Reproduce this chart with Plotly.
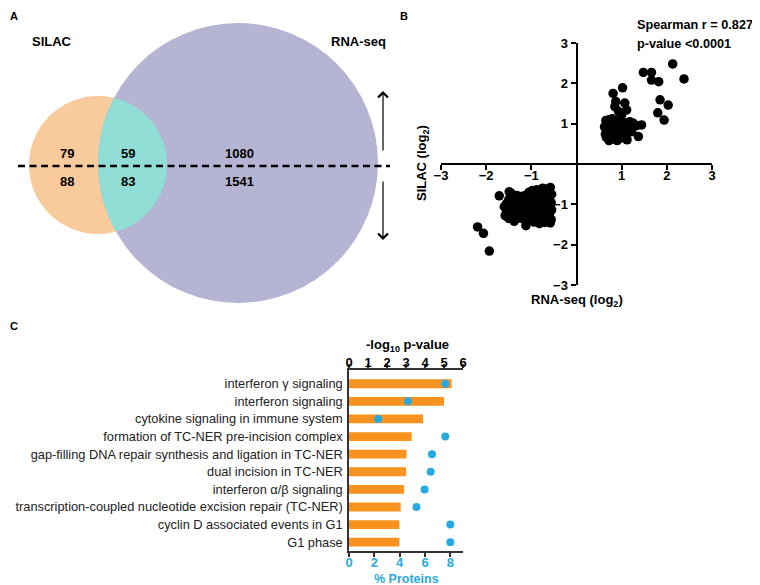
import numpy as np
import plotly.graph_objects as go

W, H = 760, 585
OFF = 8  # page body margin: target pixel t is drawn at figure pixel t - OFF
FONT = "Liberation Sans, Arial, sans-serif"

# ---------------- data ----------------
# Panel A: Venn counts
venn_labels = ["SILAC", "RNA-seq"]
silac_only_up, silac_only_down = 79, 88
overlap_up, overlap_down = 59, 83
rnaseq_only_up, rnaseq_only_down = 1080, 1541

# Panel B: SILAC vs RNA-seq (log2)
up_x = [2.13, 2.38, 1.48, 1.66, 1.66, 1.82, 1.85, 2.03, 1.80, 1.94,
        1.02, 0.81, 0.87, 1.07, 1.11, 0.85, 1.00, 0.93, 1.44, 1.37, 1.26, 1.33, 1.18, 1.15, 1.22,
        0.65, 0.70, 0.72, 0.78, 0.82, 0.68, 0.75, 0.80, 0.88, 0.92, 0.95, 1.00, 1.05, 1.02, 0.90,
        0.66, 0.72, 0.85, 0.98, 1.08, 0.62, 0.76, 0.87, 0.95, 1.10, 0.70, 0.82, 0.64, 0.93, 1.04,
        0.79, 0.90, 1.12, 0.74]
up_y = [2.48, 2.11, 2.27, 2.27, 2.08, 2.04, 1.59, 1.46, 1.27, 1.09,
        1.89, 1.75, 1.55, 1.51, 1.34, 1.42, 1.22, 1.30, 0.97, 0.68, 1.01, 0.95, 1.05, 0.88, 0.80,
        1.08, 0.95, 1.10, 1.02, 0.92, 0.80, 0.72, 0.62, 0.70, 0.85, 0.98, 0.78, 0.92, 0.65, 0.58,
        0.66, 0.58, 1.08, 1.08, 1.02, 0.92, 0.85, 0.80, 0.72, 0.72, 0.70, 0.75, 0.74, 0.62, 0.83,
        1.12, 0.95, 0.60, 0.64]
down_x = [-2.19, -2.06, -1.93, -1.71, -1.49, -1.12,
          -0.58, -0.65, -0.75, -0.88, -0.98, -1.05, -0.62,
          -0.55, -0.70, -0.82, -0.95, -1.10, -1.20, -1.32, -1.45,
          -0.60, -0.72, -0.85, -1.00, -1.15, -1.25, -1.38, -1.50,
          -0.56, -0.68, -0.80, -0.92, -1.05, -1.18, -1.30, -1.42, -1.55,
          -0.58, -0.74, -0.86, -0.97, -1.10, -1.22, -1.35, -1.48, -1.60,
          -0.55, -0.66, -0.78, -0.90, -1.02, -1.14, -1.28, -1.40, -1.55,
          -0.60, -0.72, -0.84, -0.95, -1.08, -1.20, -1.33, -1.45, -1.58,
          -0.56, -0.68, -0.80, -0.92, -1.04, -1.16, -1.28, -1.50,
          -0.58, -0.70, -0.82, -0.94, -1.38,
          -0.62, -0.76, -1.12, -0.88, -1.00]
down_y = [-1.56, -1.72, -2.16, -0.79, -0.69, -1.53,
          -0.58, -0.62, -0.60, -0.64, -0.66, -0.70, -0.70,
          -0.75, -0.74, -0.76, -0.78, -0.76, -0.80, -0.78, -0.72,
          -0.86, -0.88, -0.84, -0.88, -0.86, -0.90, -0.92, -0.88,
          -0.96, -0.98, -0.95, -0.97, -0.94, -0.98, -1.00, -1.02, -0.98,
          -1.06, -1.05, -1.08, -1.04, -1.07, -1.05, -1.10, -1.08, -1.06,
          -1.14, -1.18, -1.15, -1.16, -1.20, -1.15, -1.18, -1.20, -1.16,
          -1.26, -1.28, -1.25, -1.30, -1.26, -1.28, -1.24, -1.30, -1.28,
          -1.38, -1.40, -1.36, -1.40, -1.36, -1.38, -1.34, -1.35,
          -1.46, -1.45, -1.48, -1.44, -1.42,
          -0.94, -1.22, -0.95, -1.02, -1.12]
scatter_ticks = [-3, -2, -1, 1, 2, 3]

# Panel C: pathway enrichment
pathways = ["interferon γ signaling", "interferon signaling",
            "cytokine signaling in immune system",
            "formation of TC-NER pre-incision complex",
            "gap-filling DNA repair synthesis and ligation in TC-NER",
            "dual incision in TC-NER", "interferon α/β signaling",
            "transcription-coupled nucleotide excision repair (TC-NER)",
            "cyclin D associated events in G1", "G1 phase"]
neg_log10_p = [5.4, 5.0, 3.9, 3.3, 3.03, 3.0, 2.9, 2.72, 2.65, 2.65]
pct_proteins = [7.6, 4.65, 2.3, 7.6, 6.55, 6.45, 5.97, 5.33, 8.0, 8.0]
pval_ticks = [0, 1, 2, 3, 4, 5, 6]
pct_ticks = [0, 2, 4, 6, 8]

# ---------------- styling ----------------
ORANGE_V = "#F9CA9C"
TEAL_V = "#8FDDD4"
PURPLE_V = "#B6B4D3"
BAR_ORANGE = "#F7931E"
CYAN = "#27AAE1"


def px(x):
    return (x - OFF) / W


def py(y):
    return 1 - (y - OFF) / H


fig = go.Figure()

# ---------------- Panel A (pixel-scaled axis) ----------------
c1 = (98.0, 165.0, 69.0)   # SILAC circle (cx, cy, r)
c2 = (238.0, 163.0, 140.0)  # RNA-seq circle


def circle_shape(c, color):
    cx, cy, r = c
    return dict(type="circle", xref="x", yref="y", x0=cx - r, x1=cx + r,
                y0=cy - r, y1=cy + r, fillcolor=color, line=dict(width=0),
                layer="below")


def lens_path(a, b, n=80):
    (x1, y1, r1), (x2, y2, r2) = a, b
    d = np.hypot(x2 - x1, y2 - y1)
    ang = np.arctan2(y2 - y1, x2 - x1)
    t1 = np.arccos((d**2 + r1**2 - r2**2) / (2 * d * r1))
    t2 = np.arccos((d**2 + r2**2 - r1**2) / (2 * d * r2))
    th1 = np.linspace(ang - t1, ang + t1, n)
    th2 = np.linspace(ang + np.pi - t2, ang + np.pi + t2, n)
    xs = np.concatenate([x1 + r1 * np.cos(th1), x2 + r2 * np.cos(th2)])
    ys = np.concatenate([y1 + r1 * np.sin(th1), y2 + r2 * np.sin(th2)])
    return "M " + " L ".join(f"{u:.2f},{v:.2f}" for u, v in zip(xs, ys)) + " Z"


shapes = [circle_shape(c1, ORANGE_V), circle_shape(c2, PURPLE_V),
          dict(type="path", xref="x", yref="y", path=lens_path(c1, c2),
               fillcolor=TEAL_V, line=dict(width=0), layer="below"),
          dict(type="line", xref="x", yref="y", x0=18, x1=390, y0=166, y1=166,
               line=dict(color="black", width=2.5, dash="7px,4.5px"))]

annotations = []


def txt(x, y, s, size=13, bold=True, color="black", ref=("x", "y"),
        xanchor="center", yanchor="middle", **kw):
    annotations.append(dict(x=x, y=y, xref=ref[0], yref=ref[1], text=s,
                            showarrow=False, xanchor=xanchor, yanchor=yanchor,
                            font=dict(family=FONT, size=size, color=color,
                                      weight="bold" if bold else "normal"),
                            **kw))


txt(52, 41, venn_labels[0])
txt(358, 41, venn_labels[1])
for (x, y, v) in [(67, 153, silac_only_up), (67, 181, silac_only_down),
                  (128, 153, overlap_up), (128, 181, overlap_down),
                  (239, 153, rnaseq_only_up), (239, 181, rnaseq_only_down)]:
    txt(x, y, str(v))

# arrows
for (y0, y1) in [(152, 91), (180, 240)]:
    annotations.append(dict(x=383, y=y1, ax=383, ay=y0, xref="x", yref="y",
                            axref="x", ayref="y", text="", showarrow=True,
                            arrowhead=4, arrowsize=1.6, arrowwidth=1.2,
                            arrowcolor="black"))

# panel letters
PP = ("paper", "paper")
txt(px(8), py(OFF), "A", size=11, ref=PP, xanchor="left", yanchor="top")
txt(px(398), py(OFF), "B", size=11, ref=PP, xanchor="left", yanchor="top")
txt(px(8), py(326), "C", size=11, ref=PP, xanchor="left")

# ---------------- Panel B ----------------
fig.add_trace(go.Scatter(x=up_x + down_x, y=up_y + down_y, mode="markers",
                         marker=dict(color="black", size=9.5),
                         xaxis="x2", yaxis="y2", hoverinfo="skip"))

txt(px(635), py(25), "Spearman r = 0.827", size=12.7, ref=PP, xanchor="left")
txt(px(635), py(44), "p-value <0.0001", size=12.7, ref=PP, xanchor="left")
txt(px(423), py(163), "SILAC (log<sub>2</sub>)", ref=PP, textangle=-90)
txt(px(577), py(300), "RNA-seq (log<sub>2</sub>)", ref=PP)

# ---------------- Panel C ----------------
fig.add_trace(go.Bar(x=neg_log10_p, y=pathways, orientation="h", width=0.5,
                     marker=dict(color=BAR_ORANGE, line=dict(width=0)),
                     xaxis="x3", yaxis="y3", hoverinfo="skip"))
fig.add_trace(go.Scatter(x=pct_proteins, y=pathways, mode="markers",
                         marker=dict(color=CYAN, size=8),
                         xaxis="x4", yaxis="y3", hoverinfo="skip"))

bfont = dict(family=FONT, size=13, color="black", weight="bold")
cfont = dict(family=FONT, size=13, color=CYAN, weight="bold")

bx0, bx1 = 441, 712
by0, by1 = 43, 285
cx0, cx1 = 349, 463
cy0, cy1 = 370, 551

txt(px(407), py(345), "-log<sub>10</sub> p-value", ref=PP)
txt(px(406), py(578.5), "% Proteins", size=12.5, ref=PP, color=CYAN)

fig.update_layout(
    width=W, height=H,
    margin=dict(l=0, r=0, t=0, b=0, pad=0, autoexpand=False),
    paper_bgcolor="white", plot_bgcolor="rgba(0,0,0,0)", showlegend=False,
    shapes=shapes, annotations=annotations,
    xaxis=dict(domain=[0, 400 / W], range=[OFF, 400 + OFF], visible=False,
               fixedrange=True),
    yaxis=dict(domain=[1 - 310 / H, 1], range=[310 + OFF, OFF], visible=False,
               fixedrange=True),
    xaxis2=dict(domain=[px(bx0), px(bx1)], range=[-3, 3], anchor="free",
                position=py((by0 + by1) / 2), showline=True, linecolor="black",
                linewidth=2, ticks="outside", ticklen=5, tickwidth=2,
                tickcolor="black", tickvals=scatter_ticks, showgrid=False,
                zeroline=False, tickfont=bfont, automargin=False,
                ticklabelstandoff=-6),
    yaxis2=dict(domain=[py(by1), py(by0)], range=[-3, 3], anchor="free",
                position=px((bx0 + bx1) / 2), showline=True, linecolor="black",
                linewidth=2, ticks="outside", ticklen=5, tickwidth=2,
                tickcolor="black", tickvals=scatter_ticks, showgrid=False,
                zeroline=False, tickfont=bfont, automargin=False),
    xaxis3=dict(domain=[px(cx0), px(cx1)], range=[0, 6], side="top", anchor="y3",
                showline=True, linecolor="#333", linewidth=1.5, ticks="outside",
                ticklen=4, tickwidth=1.5, tickcolor="#333", tickvals=pval_ticks,
                showgrid=False, zeroline=False, tickfont=bfont, automargin=False,
                ticklabelstandoff=-8),
    xaxis4=dict(domain=[px(cx0), px(cx1)], range=[0, 9], side="bottom",
                anchor="y3", overlaying="x3", showline=True, linecolor="#333",
                linewidth=1.5, ticks="outside", ticklen=4, tickwidth=1.5,
                tickcolor="#333", tickvals=pct_ticks, showgrid=False,
                zeroline=False, tickfont=cfont, automargin=False,
                ticklabelstandoff=-5),
    yaxis3=dict(domain=[py(cy1), py(cy0)], type="category",
                categoryorder="array", categoryarray=pathways,
                range=[9.5, -0.78], anchor="x3", showline=True, linecolor="#333",
                linewidth=1.5, ticks="", showgrid=False, zeroline=False,
                ticklabelstandoff=2, automargin=False,
                tickfont=dict(family=FONT, size=12.8, color="#222")),
)

fig.write_html("out.html")
